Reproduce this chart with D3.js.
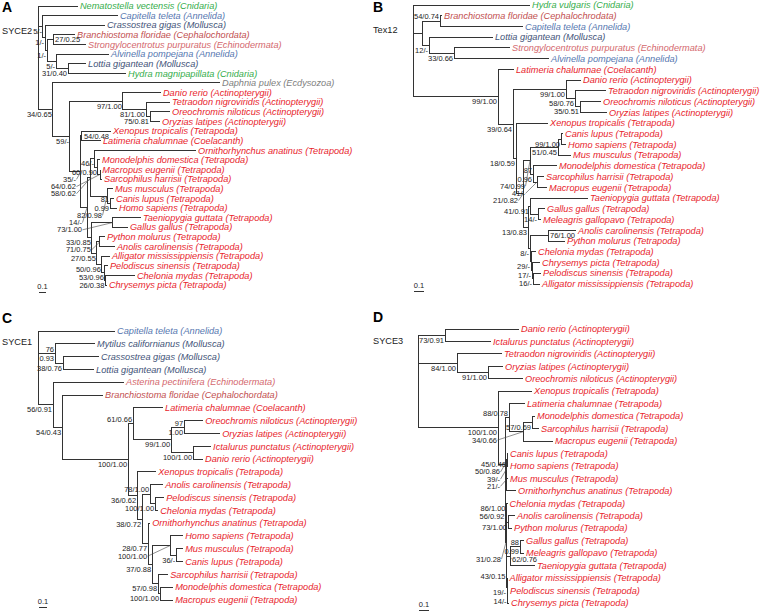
<!DOCTYPE html>
<html>
<head>
<meta charset="utf-8">
<script src="https://cdn.jsdelivr.net/npm/d3@7"></script>
<style>
  body { margin: 0; background: #fff; }
  svg { display: block; font-family: "Liberation Sans", Arial, sans-serif; }
</style>
</head>
<body>
<svg id="chart" width="760" height="614"></svg>
<script>
// ---- data ----
// leaves: [species, group] in the order they appear top to bottom
const leavesA = [
  ["Nematostella vectensis", "Cnidaria"], ["Capitella teleta", "Annelida"], ["Crassostrea gigas", "Mollusca"],
  ["Branchiostoma floridae", "Cephalochordata"], ["Strongylocentrotus purpuratus", "Echinodermata"],
  ["Alvinella pompejana", "Annelida"], ["Lottia gigantean", "Mollusca"], ["Hydra magnipapillata", "Cnidaria"],
  ["Daphnia pulex", "Ecdysozoa"], ["Danio rerio", "Actinopterygii"], ["Tetraodon nigroviridis", "Actinopterygii"],
  ["Oreochromis niloticus", "Actinopterygii"], ["Oryzias latipes", "Actinopterygii"], ["Xenopus tropicalis", "Tetrapoda"],
  ["Latimeria chalumnae", "Coelacanth"], ["Ornithorhynchus anatinus", "Tetrapoda"], ["Monodelphis domestica", "Tetrapoda"],
  ["Macropus eugenii", "Tetrapoda"], ["Sarcophilus harrisii", "Tetrapoda"], ["Mus musculus", "Tetrapoda"],
  ["Canis lupus", "Tetrapoda"], ["Homo sapiens", "Tetrapoda"], ["Taeniopygia guttata", "Tetrapoda"],
  ["Gallus gallus", "Tetrapoda"], ["Python molurus", "Tetrapoda"], ["Anolis carolinensis", "Tetrapoda"],
  ["Alligator mississippiensis", "Tetrapoda"], ["Pelodiscus sinensis", "Tetrapoda"], ["Chelonia mydas", "Tetrapoda"],
  ["Chrysemys picta", "Tetrapoda"]
];
// newick: leaf = index into the leaves list, internal name = bootstrap/posterior support
const treeA = "(0:0.571,(1:1.071,(2:0.857,((3:0.314,4:0.471)27/0.25:0.086,(5:0.757,(6:0.257,7:0.829)31/0.40:0.171)5/-:0.129)1/-:0.029)1/-:0.029)5/-:0.071,(8:2.386,((9:0.543,(10:0.343,(11:0.286,12:0.143)75/0.81:0.057)81/1.00:0.329)97/1.00:0.757,((13:0.414,14:0.271)54/0.48:0.014,(((15:1.443,(16:0.029,(17:0.005,18:0.029)64/0.62:0.029)60/0.90:0.043)46/-:0.057,(19:0.086,(20:0.057,21:0.1)81/0.99:0.043)82/0.98:0.229)58/0.62:0.057,((22:0.4,23:0.214)73/1.00:0.3,((24:0.071,25:0.214)71/0.75:0.043,(26:0.114,(27:0.043,(28:0.421,29:0.021)26/0.38:0.007)53/0.96:0.043)50/0.96:0.071)27/0.55:0.071)33/0.85:0.071)14/-:0.086)35/-:0.157)59/-:0.243)34/0.65:0.214);";

const leavesB = [
  ["Hydra vulgaris", "Cnidaria"], ["Branchiostoma floridae", "Cephalochrodata"], ["Capitella teleta", "Annelida"],
  ["Lottia gigantean", "Mollusca"], ["Strongylocentrotus purpuratus", "Echinodermata"], ["Alvinella pompejana", "Annelida"],
  ["Latimeria chalumnae", "Coelacanth"], ["Danio rerio", "Actinopterygii"], ["Tetraodon nigroviridis", "Actinopterygii"],
  ["Oreochromis niloticus", "Actinopterygii"], ["Oryzias latipes", "Actinopterygii"], ["Xenopus tropicalis", "Tetrapoda"],
  ["Canis lupus", "Tetrapoda"], ["Homo sapiens", "Tetrapoda"], ["Mus musculus", "Tetrapoda"],
  ["Monodelphis domestica", "Tetrapoda"], ["Sarcophilus harrisii", "Tetrapoda"], ["Macropus eugenii", "Tetrapoda"],
  ["Taeniopygia guttata", "Tetrapoda"], ["Gallus gallus", "Tetrapoda"], ["Meleagris gallopavo", "Tetrapoda"],
  ["Anolis carolinensis", "Tetrapoda"], ["Python molurus", "Tetrapoda"], ["Chelonia mydas", "Tetrapoda"],
  ["Chrysemys picta", "Tetrapoda"], ["Pelodiscus sinensis", "Tetrapoda"], ["Alligator mississippiensis", "Tetrapoda"]
];
const treeB = "(0:1.17,((1:0.02,2:0.83)54/0.74:0.18,(3:0.64,(4:0.56,5:0.95)33/0.66:0.25)12/-:0.07):0.09,(6:0.16,((7:0.15,(8:0.31,(9:0.21,10:0.27)35/0.51:0.05)58/0.76:0.09)99/1.00:0.53,(11:0.32,((((12:0.02,13:0.05)99/1.00:0.03,14:0.13)51/0.45:0.28,(15:0.24,(16:0.07,17:0.10)41/-:0.04)87/0.96:0.03)74/0.99:0.07,((18:0.58,(19:0.07,20:0.03)14/-:0.08)41/0.91:0.02,((21:0.28,22:0.17)76/1.00:0.18,(23:0.05,(24:0.08,(25:0.08,26:0.07)16/-:0.01)17/-:0.01)29/-:0.01)8/-:0.02)13/0.83:0.05)21/0.82:0.07)18/0.59:0.03)39/0.64:0.15)99/1.00:0.85);";

const leavesC = [
  ["Capitella teleta", "Annelida"], ["Mytilus californianus", "Mollusca"], ["Crassostrea gigas", "Mollusca"],
  ["Lottia gigantean", "Mollusca"], ["Asterina pectinifera", "Echinodermata"], ["Branchiostoma floridae", "Cephalochordata"],
  ["Latimeria chalumnae", "Coelacanth"], ["Oreochromis niloticus", "Actinopterygii"], ["Oryzias latipes", "Actinopterygii"],
  ["Ictalurus punctatus", "Actinopterygii"], ["Danio rerio", "Actinopterygii"], ["Xenopus tropicalis", "Tetrapoda"],
  ["Anolis carolinensis", "Tetrapoda"], ["Pelodiscus sinensis", "Tetrapoda"], ["Chelonia mydas", "Tetrapoda"],
  ["Ornithorhynchus anatinus", "Tetrapoda"], ["Homo sapiens", "Tetrapoda"], ["Mus musculus", "Tetrapoda"],
  ["Canis lupus", "Tetrapoda"], ["Sarcophilus harrisii", "Tetrapoda"], ["Monodelphis domestica", "Tetrapoda"],
  ["Macropus eugenii", "Tetrapoda"]
];
const treeC = "(0:0.963,(1:0.5,(2:0.45,3:0.388)38/0.76:0.1)76/0.93:0.213,(4:0.888,(5:0.513,((6:0.375,((7:0.238,8:0.45)97/1.00:0.163,(9:0.225,10:0.125)100/1.00:0.275)99/1.00:0.475)61/0.66:0.063,(11:0.238,((12:0.163,(13:0.113,14:0.038)100/1.00:0.063)78/1.00:0.1,(15:0.025,((16:0.163,(17:0.088,18:0.088)36/-:0.075)100/1.00:0.225,(19:0.125,(20:0.163,21:0.163)100/1.00:0.025)57/0.98:0.075)37/0.88:0.05)28/0.77:0.075)38/0.72:0.063)36/0.62:0.113)100/1.00:0.825)54/0.43:0.113)56/0.91:0.188);";

const leavesD = [
  ["Danio rerio", "Actinopterygii"], ["Ictalurus punctatus", "Actinopterygii"], ["Tetraodon nigroviridis", "Actinopterygii"],
  ["Oryzias latipes", "Actinopterygii"], ["Oreochromis niloticus", "Actinopterygii"], ["Xenopus tropicalis", "Tetrapoda"],
  ["Latimeria chalumnae", "Tetrapoda"], ["Monodelphis domestica", "Tetrapoda"], ["Sarcophilus harrisii", "Tetrapoda"],
  ["Macropus eugenii", "Tetrapoda"], ["Canis lupus", "Tetrapoda"], ["Homo sapiens", "Tetrapoda"],
  ["Mus musculus", "Tetrapoda"], ["Ornithorhynchus anatinus", "Tetrapoda"], ["Chelonia mydas", "Tetrapoda"],
  ["Anolis carolinensis", "Tetrapoda"], ["Python molurus", "Tetrapoda"], ["Gallus gallus", "Tetrapoda"],
  ["Meleagris gallopavo", "Tetrapoda"], ["Taeniopygia guttata", "Tetrapoda"], ["Alligator mississippiensis", "Tetrapoda"],
  ["Pelodiscus sinensis", "Tetrapoda"], ["Chrysemys picta", "Tetrapoda"]
];
const treeD = "((0:0.74,1:0.46)73/0.91:0.27,(2:0.45,(3:0.15,4:0.35)91/1.00:0.31)84/1.00:0.39,(5:0.34,((6:0.16,((7:0.03,8:0.07)57/0.69:0.09,9:0.30)34/0.66:0.14)88/0.78:0.04,((((10:0.01,11:0.01)45/0.46:0.005,12:0.015)39/-:0.005,13:0.10)21/-:0.005,((14:0.01,(15:0.07,16:0.04)73/1.00:0.015)86/1.00:0.005,(((17:0.04,18:0.04)88/0.99:0.10,19:0.25)62/0.76:0.035,(20:0.005,(21:0.005,22:0.015)14/-:0.005)19/-:0.005)43/0.15:0.005)31/0.28:0.005)56/0.92:0.005)50/0.86:0.07)100/1.00:0.80);";

const panelLetters = ["A", "B", "C", "D"];
const geneNames = ["SYCE2", "Tex12", "SYCE1", "SYCE3"];
const scaleValue = 0.1;

const groupColor = {
  Cnidaria: "#35ad4b",
  Annelida: "#5677b0",
  Mollusca: "#3f5378",
  Echinodermata: "#d4686d",
  Cephalochordata: "#c2504f",
  Cephalochrodata: "#c2504f",
  Ecdysozoa: "#808080",
  Actinopterygii: "#e8242c",
  Coelacanth: "#e8242c",
  Tetrapoda: "#e8242c"
};

// ---- helpers ----
function parseNewick(str) {
  let i = 0;
  const token = () => {
    let t = "";
    while (i < str.length && !",():;".includes(str[i])) t += str[i++];
    return t;
  };
  const readNode = () => {
    const node = {};
    if (str[i] === "(") {
      node.children = [];
      i++;
      node.children.push(readNode());
      while (str[i] === ",") { i++; node.children.push(readNode()); }
      i++; // closing bracket
    }
    node.name = token();
    node.length = 0;
    if (str[i] === ":") { i++; node.length = +token(); }
    return node;
  };
  return readNode();
}

const overlaps = (a, b) => a.x0 < b.x1 && b.x0 < a.x1 && a.y0 < b.y1 && b.y0 < a.y1;

const svg = d3.select("#chart");

// layout of each panel (root x, first/last leaf y, pixels per unit of branch length)
// and how a few crowded support values are set (two lines, above the branch, right of the node)
const panels = [
  { leaves: leavesA, tree: treeA, x0: 38, y0: 6, y1: 285, unit: 70, lx: 2, ly: 12, gy: 34,
    stacked: ["81/0.99"], above: ["73/1.00"], right: ["27/0.25", "54/0.48"] },
  { leaves: leavesB, tree: treeB, x0: 413, y0: 5, y1: 284, unit: 100, lx: 373, ly: 12, gy: 33,
    stacked: ["87/0.96"], above: ["54/0.74"], right: ["76/1.00"] },
  { leaves: leavesC, tree: treeC, x0: 38, y0: 331, y1: 600, unit: 80, lx: 2, ly: 323, gy: 345,
    stacked: ["76/0.93", "97/1.00"], above: ["61/0.66", "78/1.00"], right: [] },
  { leaves: leavesD, tree: treeD, x0: 418, y0: 329, y1: 603, unit: 100, lx: 373, ly: 322, gy: 344,
    stacked: ["88/0.99"], above: ["88/0.78", "86/1.00"], right: ["62/0.76"] }
];

panels.forEach((p, pi) => {
  const g = svg.append("g");
  const root = d3.hierarchy(parseNewick(p.tree));

  const x = d3.scaleLinear().domain([0, 1]).range([p.x0, p.x0 + p.unit]);
  const y = d3.scaleLinear().domain([0, p.leaves.length - 1]).range([p.y0, p.y1]);

  root.eachBefore((d) => { d.dist = d.parent ? d.parent.dist + d.data.length : 0; });
  root.leaves().forEach((d, k) => { d.py = y(k); });
  root.eachAfter((d) => {
    if (d.children) d.py = (d.children[0].py + d.children[d.children.length - 1].py) / 2;
  });

  // branches: vertical at parent, then horizontal to the node
  g.append("g")
    .attr("fill", "none")
    .attr("stroke", "#333")
    .attr("stroke-width", 1)
    .attr("shape-rendering", "crispEdges")
    .selectAll("path")
    .data(root.descendants().filter((d) => d.parent))
    .join("path")
    .attr("d", (d) => `M${x(d.parent.dist)},${d.parent.py}V${d.py}H${x(d.dist)}`);

  // panel letter and gene name
  g.append("text")
    .attr("x", p.lx)
    .attr("y", p.ly)
    .attr("font-size", "14px")
    .attr("font-weight", "bold")
    .text(panelLetters[pi]);
  const gene = g.append("text")
    .attr("x", p.lx)
    .attr("y", p.gy)
    .attr("font-size", "9.2px")
    .attr("fill", "#222")
    .text(geneNames[pi]);

  // taxon names
  const gw = gene.node().getComputedTextLength();
  const placed = [{ x0: p.lx, x1: p.lx + gw, y0: p.gy - 7, y1: p.gy + 1, leaf: true }];
  g.append("g")
    .attr("font-size", "9.2px")
    .attr("font-style", "italic")
    .selectAll("text")
    .data(root.leaves())
    .join("text")
    .attr("x", (d) => x(d.dist) + 2)
    .attr("y", (d) => d.py)
    .attr("dy", "0.35em")
    .attr("fill", (d) => groupColor[p.leaves[+d.data.name][1]])
    .text((d) => {
      const [sp, grp] = p.leaves[+d.data.name];
      return `${sp} (${grp})`;
    })
    .each(function (d) {
      const w = this.getComputedTextLength();
      placed.push({ x0: x(d.dist) + 2, x1: x(d.dist) + 2 + w, y0: d.py - 3.5, y1: d.py + 3.5, leaf: true });
    });

  // support values next to each node; crowded ones move into a column with a leader line
  const sg = g.append("g").attr("font-size", "7.5px").attr("fill", "#222");
  const leaders = g.append("g").attr("stroke", "#444").attr("stroke-width", 0.6);

  root.descendants()
    .filter((d) => d.children && d.parent && d.data.name)
    .sort((a, b) =>
      (p.stacked.includes(b.data.name) - p.stacked.includes(a.data.name)) || a.py - b.py || a.dist - b.dist)
    .forEach((d) => {
      const name = d.data.name;
      const nx = x(d.dist), ny = d.py;
      const t = sg.append("text");
      const isStacked = p.stacked.includes(name);
      const isRight = p.right.includes(name);

      let w;
      if (isStacked) {
        const [a, b] = name.split("/");
        t.append("tspan").attr("class", "l1").text(a);
        t.append("tspan").attr("class", "l2").text(b);
        w = Math.max(...t.selectAll("tspan").nodes().map((n) => n.getComputedTextLength()));
      } else {
        t.text(name);
        w = t.node().getComputedTextLength();
      }

      let ax = isRight ? nx + 2 : nx - 1;
      let by = isRight ? ny + 2.7 : (p.above.includes(name) ? ny - 2 : ny + 7.5);
      const box = () => {
        const x0 = isRight ? ax : ax - w;
        return isStacked
          ? { x0, x1: x0 + w, y0: by - 15, y1: by + 1.2 }
          : { x0, x1: x0 + w, y0: by - 6, y1: by + 1.2 };
      };

      const ax0 = ax, by0 = by;
      const blocking = placed.filter((b) => !(isRight && b.leaf));
      let hit;
      let guard = 0;
      while ((hit = blocking.find((b) => overlaps(b, box()))) && guard++ < 25) {
        if (hit.leaf) {
          if (hit.x1 <= nx && !isRight) { by = hit.y1 + 6; } else { ax = hit.x0 - 1; }
        } else {
          by = hit.y1 + 6;
          if (!isRight) ax = Math.min(nx - 5, hit.x1);
        }
      }
      placed.push(box());

      t.attr("text-anchor", isRight ? "start" : "end");
      if (isStacked) {
        t.select(".l1").attr("x", ax).attr("y", by - 9);
        t.select(".l2").attr("x", ax).attr("y", by);
      } else {
        t.attr("x", ax).attr("y", by);
      }

      if (by - by0 > 2 || ax0 - ax > 3) {
        leaders.append("line")
          .attr("x1", ax + (isRight ? -0.5 : 0.5)).attr("y1", by - 2.5)
          .attr("x2", nx).attr("y2", ny);
      }
    });

  // scale bar
  const by = p.y1 + 7;
  g.append("line")
    .attr("x1", x(0) + 1)
    .attr("x2", x(scaleValue) + 1)
    .attr("y1", by)
    .attr("y2", by)
    .attr("stroke", "#333")
    .attr("shape-rendering", "crispEdges");
  g.append("text")
    .attr("x", (x(0) + x(scaleValue)) / 2 + 1)
    .attr("y", by - 3)
    .attr("text-anchor", "middle")
    .attr("font-size", "7.5px")
    .attr("fill", "#222")
    .text(scaleValue);
});
</script>
</body>
</html>
